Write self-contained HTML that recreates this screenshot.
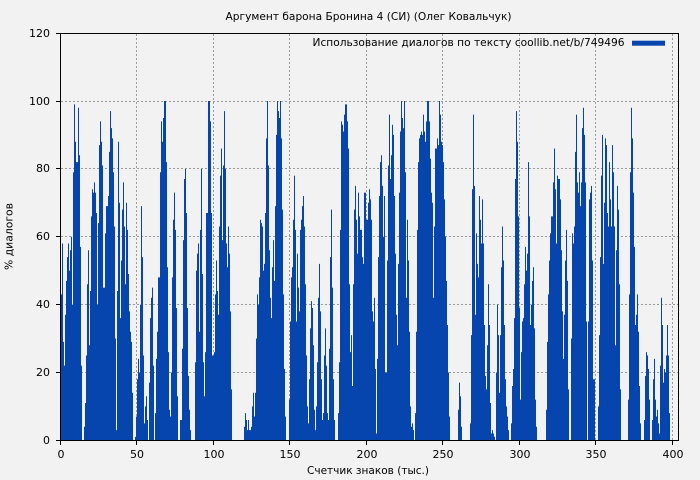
<!DOCTYPE html>
<html><head><meta charset="utf-8"><style>
html,body{margin:0;padding:0;background:#f2f2f2;}
svg{display:block;}
text{font-family:"DejaVu Sans","Liberation Sans",sans-serif;font-size:11px;fill:#000;}
</style></head><body>
<svg width="700" height="480" viewBox="0 0 700 480" xmlns="http://www.w3.org/2000/svg">
<rect x="0" y="0" width="700" height="480" fill="#f2f2f2"/>
<g stroke="#999" stroke-width="1" stroke-dasharray="2,2" fill="none">
<line x1="61" y1="372.5" x2="678" y2="372.5"/>
<line x1="61" y1="304.5" x2="678" y2="304.5"/>
<line x1="61" y1="236.5" x2="678" y2="236.5"/>
<line x1="61" y1="168.5" x2="678" y2="168.5"/>
<line x1="61" y1="101.5" x2="678" y2="101.5"/>
<line x1="136.5" y1="34" x2="136.5" y2="440"/>
<line x1="213.5" y1="34" x2="213.5" y2="440"/>
<line x1="289.5" y1="34" x2="289.5" y2="440"/>
<line x1="366.5" y1="34" x2="366.5" y2="440"/>
<line x1="442.5" y1="34" x2="442.5" y2="440"/>
<line x1="519.5" y1="34" x2="519.5" y2="440"/>
<line x1="595.5" y1="34" x2="595.5" y2="440"/>
<line x1="672.5" y1="34" x2="672.5" y2="440"/>
</g>
<g transform="translate(0,440.3) scale(1,-3.393)">
<path fill="#0645ad" d="M60,0V43H61V43H62V58H63V29H64V22H65V37H66V47H67V54H68V58H69V50H70V56H71V60H72V40H73V79H74V99H75V88H76V82H77V82H78V98H79V84H80V57H81V22H82V0H83V0H84V4H85V11H86V25H87V46H88V56H89V28H90V44H91V66H92V74H93V73H94V76H95V73H96V67H97V40H98V64H99V87H100V94H101V88H102V81H103V45H104V45H105V61H106V69H107V69H108V72H109V85H110V97H111V92H112V89H113V79H114V63H115V30H116V3H117V44H118V88H119V70H120V36H121V53H122V68H123V76H124V63H125V46H126V70H127V62H128V49H129V38H130V32H131V29H132V14H133V0H135V1H136V7H137V18H138V24H139V20H140V40H141V69H142V54H143V25H144V5H145V10H146V13H147V6H148V0H149V17H150V36H151V42H152V45H153V22H154V0H155V8H156V24H157V32H158V48H160V79H161V94H162V88H163V95H164V100H166V82H167V51H168V26H169V9H170V7H171V20H172V48H173V65H174V73H175V62H176V39H177V13H178V0H180V6H182V27H183V59H184V77H185V80H186V67H187V39H188V19H189V9H190V3H191V0H195V23H196V50H197V55H198V58H199V32H200V62H201V80H202V49H203V23H204V13H205V26H206V67H208V100H210V94H211V67H212V25H214V26H215V43H216V53H217V44H218V37H219V63H220V78H221V86H222V59H223V81H224V97H225V80H226V58H227V51H228V63H229V55H230V38H231V15H232V0H244V4H245V8H246V6H247V3H248V6H249V3H251V4H252V10H253V14H254V7H255V14H256V30H257V43H258V40H259V48H260V65H261V64H262V63H263V50H264V52H265V67H266V89H267V100H268V81H269V56H270V42H271V36H272V51H273V59H274V47H275V69H276V90H277V100H278V97H279V95H280V100H281V89H282V68H283V43H284V21H285V7H286V0H289V12H290V35H291V48H292V51H293V65H294V78H295V62H296V35H297V55H298V45H299V38H300V62H301V65H302V69H303V72H304V63H305V46H306V25H307V10H308V5H309V18H310V33H311V41H312V39H313V28H314V9H315V3H316V10H317V23H318V42H319V52H320V38H321V18H322V6H323V8H324V25H325V33H326V22H327V8H328V6H329V27H330V54H331V68H332V45H333V18H334V6H335V0H338V8H339V23H340V62H341V94H342V93H343V91H344V96H345V99H347V94H348V86H349V46H350V26H351V31H352V16H353V46H354V68H355V75H356V65H357V55H358V73H359V66H360V62H362V54H363V52H364V73H366V65H368V70H369V74H370V71H371V65H372V38H373V35H374V42H375V21H376V2H377V24H378V54H379V72H380V82H381V84H382V75H383V60H384V72H385V20H387V53H388V81H389V96H390V77H391V84H392V93H393V90H394V72H395V55H396V37H397V28H398V52H399V73H400V91H401V100H402V95H403V92H404V100H405V79H406V42H407V65H408V53H409V32H410V10H411V4H412V5H413V3H414V0H415V8H416V32H417V62H418V82H419V89H420V90H421V91H422V90H423V96H424V91H425V88H426V94H427V100H429V94H430V83H431V73H432V70H433V42H434V63H435V86H437V89H438V87H439V100H440V96H441V88H442V87H443V82H444V71H445V60H446V47H447V34H448V20H449V7H450V0H458V9H459V17H460V13H461V4H462V0H470V5H471V31H472V74H473V96H474V75H475V37H476V61H477V52H478V48H479V72H480V65H481V58H482V71H483V58H484V34H485V19H486V15H487V28H488V46H489V34H490V11H491V2H492V3H493V2H494V1H495V0H496V20H497V40H498V31H499V14H500V31H501V51H502V63H503V53H504V34H505V18H506V10H507V7H508V3H509V0H511V5H512V16H513V21H514V36H515V77H516V97H517V88H518V66H519V39H520V12H521V26H522V35H523V36H524V46H525V57H526V50H527V55H528V82H529V66H530V34H531V40H532V47H533V51H534V33H535V12H536V4H537V0H546V9H547V29H548V43H549V53H550V61H551V66H553V76H554V86H555V74H556V58H557V78H558V77H560V71H561V56H562V38H563V24H564V37H565V53H566V62H567V47H568V15H569V0H571V30H572V61H573V58H574V63H575V85H576V96H577V76H578V73H579V79H580V69H581V76H582V92H583V98H584V90H585V76H586V35H587V0H588V35H589V71H590V73H591V75H592V53H593V18H595V0H598V10H599V31H600V54H601V78H602V90H603V52H604V70H605V89H606V87H607V67H608V63H609V82H610V71H611V63H612V87H613V79H614V63H615V28H616V56H617V75H618V68H619V46H620V15H621V0H628V12H629V43H630V79H631V98H632V89H633V73H634V57H635V34H636V37H637V43H638V32H639V16H640V5H641V0H644V6H645V19H646V26H647V25H648V21H649V12H650V0H652V6H653V18H654V24H655V12H656V7H657V9H658V5H659V2H660V22H661V42H662V34H663V17H664V21H665V20H666V25H667V34H668V25H669V8H670V0Z"/>
</g>
<rect x="60.5" y="33.5" width="618" height="407" fill="none" stroke="#000" stroke-width="1"/>
<g stroke="#000" stroke-width="1">
<line x1="56" y1="440.5" x2="60" y2="440.5"/>
<line x1="56" y1="372.5" x2="60" y2="372.5"/>
<line x1="56" y1="304.5" x2="60" y2="304.5"/>
<line x1="56" y1="236.5" x2="60" y2="236.5"/>
<line x1="56" y1="168.5" x2="60" y2="168.5"/>
<line x1="56" y1="101.5" x2="60" y2="101.5"/>
<line x1="56" y1="33.5" x2="60" y2="33.5"/>
<line x1="60.5" y1="441" x2="60.5" y2="445"/>
<line x1="136.5" y1="441" x2="136.5" y2="445"/>
<line x1="213.5" y1="441" x2="213.5" y2="445"/>
<line x1="289.5" y1="441" x2="289.5" y2="445"/>
<line x1="366.5" y1="441" x2="366.5" y2="445"/>
<line x1="442.5" y1="441" x2="442.5" y2="445"/>
<line x1="519.5" y1="441" x2="519.5" y2="445"/>
<line x1="595.5" y1="441" x2="595.5" y2="445"/>
<line x1="672.5" y1="441" x2="672.5" y2="445"/>
</g>
<g text-anchor="end">
<text x="50" y="444">0</text>
<text x="50" y="376">20</text>
<text x="50" y="308">40</text>
<text x="50" y="240">60</text>
<text x="50" y="172">80</text>
<text x="50" y="105">100</text>
<text x="50" y="37">120</text>
</g>
<g text-anchor="middle">
<text x="61" y="458">0</text>
<text x="137" y="458">50</text>
<text x="214" y="458">100</text>
<text x="290" y="458">150</text>
<text x="367" y="458">200</text>
<text x="443" y="458">250</text>
<text x="520" y="458">300</text>
<text x="596" y="458">350</text>
<text x="673" y="458">400</text>
</g>
<text x="225.5" y="20" textLength="286" lengthAdjust="spacingAndGlyphs">Аргумент барона Бронина 4 (СИ) (Олег Ковальчук)</text>
<text x="312.5" y="46" textLength="312" lengthAdjust="spacingAndGlyphs">Использование диалогов по тексту coollib.net/b/749496</text>
<rect x="632" y="40.7" width="33" height="5" fill="#0645ad"/>
<text x="307" y="474" textLength="122" lengthAdjust="spacingAndGlyphs">Счетчик знаков (тыс.)</text>
<text transform="translate(12.5,270) rotate(-90)" x="0" y="0" textLength="67" lengthAdjust="spacingAndGlyphs">% диалогов</text>
</svg>
</body></html>
